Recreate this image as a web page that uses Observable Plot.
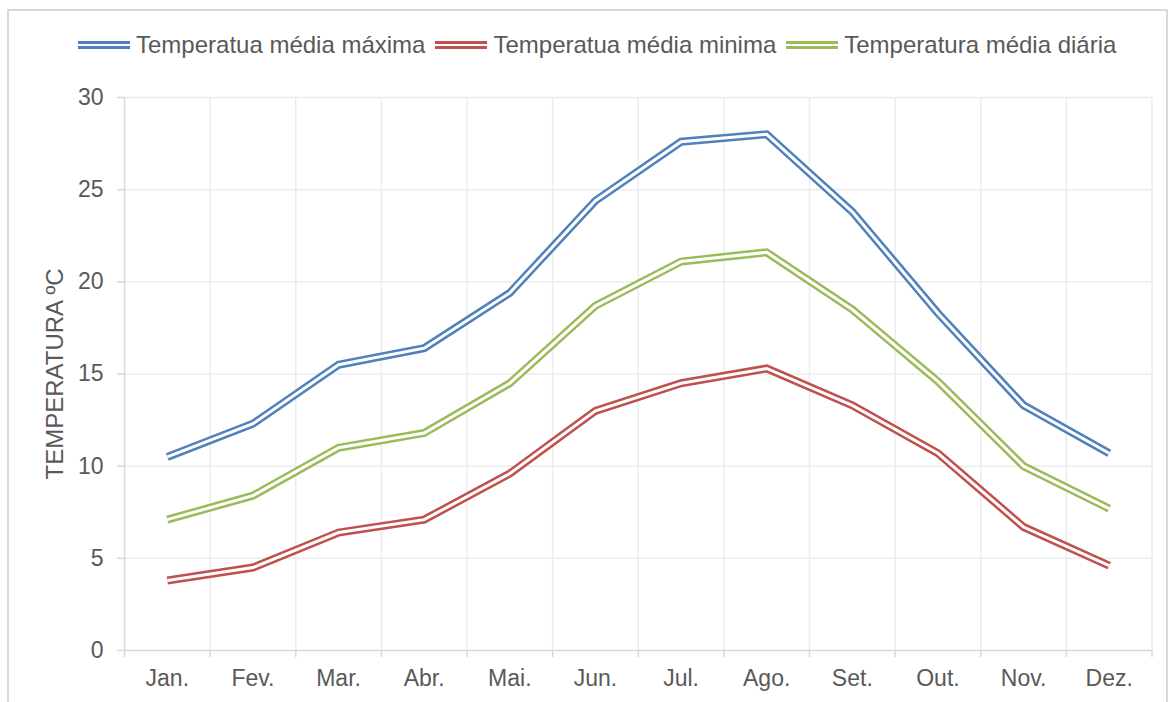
<!DOCTYPE html>
<html>
<head>
<meta charset="utf-8">
<script src="https://cdn.jsdelivr.net/npm/d3@7"></script>
<script src="https://cdn.jsdelivr.net/npm/@observablehq/plot@0.6"></script>
<style>
  html, body { margin: 0; padding: 0; background: #fff; overflow: hidden; }
  body { width: 1176px; height: 702px; position: relative; font-family: "Liberation Sans", Arial, sans-serif; color: #595959; }
  #frame { position: absolute; left: 7px; top: 9px; width: 1161px; height: 720px; border: 2px solid #d9d9d9; box-sizing: border-box; pointer-events: none; }
  #legend { position: relative; height: 80px; }
  #legend .items { position: absolute; left: 78px; top: 33px; display: flex; align-items: center; white-space: nowrap; }
  #legend .item { display: flex; align-items: center; margin-right: 10px; }
  #legend .sw { width: 52px; height: 8px; box-sizing: border-box; border-top: 3px solid; border-bottom: 3px solid; margin-right: 6px; }
  #legend .lbl { font-size: 24px; line-height: 24px; color: #595959; }
  #chart svg { display: block; }
</style>
</head>
<body>
<div id="frame"></div>
<div id="legend"><div class="items"></div></div>
<div id="chart"></div>
<script>
const months = ["Jan.","Fev.","Mar.","Abr.","Mai.","Jun.","Jul.","Ago.","Set.","Out.","Nov.","Dez."];
const seriesNames = ["Temperatua média máxima","Temperatua média minima","Temperatura média diária"];
const seriesColors = ["#4F81BD","#C0504D","#9BBB59"];
const tempMax   = [10.5, 12.3, 15.5, 16.4, 19.4, 24.4, 27.6, 28.0, 23.8, 18.3, 13.3, 10.7];
const tempMin   = [3.8, 4.5, 6.4, 7.1, 9.6, 13.0, 14.5, 15.3, 13.3, 10.7, 6.7, 4.6];
const tempDaily = [7.1, 8.4, 11.0, 11.8, 14.5, 18.7, 21.1, 21.6, 18.5, 14.6, 10.0, 7.7];
const yTicks = [0, 5, 10, 15, 20, 25, 30];
const yLabel = "TEMPERATURA ºC";

const seriesValues = [tempMax, tempMin, tempDaily];
const data = [];
seriesValues.forEach((vals, s) => vals.forEach((v, i) => data.push({series: seriesNames[s], i, v})));
const centers = months.map((_, i) => i);
const bounds = months.map((_, i) => i - 0.5).concat([months.length - 0.5]);

// legend
const items = document.querySelector("#legend .items");
seriesNames.forEach((name, s) => {
  const it = document.createElement("div");
  it.className = "item";
  const sw = document.createElement("div");
  sw.className = "sw";
  sw.style.borderColor = seriesColors[s];
  const lb = document.createElement("span");
  lb.className = "lbl";
  lb.textContent = name;
  it.appendChild(sw); it.appendChild(lb);
  items.appendChild(it);
});

const plot = Plot.plot({
  width: 1176,
  height: 622,
  marginTop: 17,
  marginBottom: 52,
  marginLeft: 124,
  marginRight: 24.5,
  style: {fontFamily: '"Liberation Sans", Arial, sans-serif', fontSize: "23px", color: "#595959", background: "transparent"},
  x: {domain: [-0.5, months.length - 0.5]},
  y: {domain: [0, 30]},
  color: {domain: seriesNames, range: seriesColors},
  marks: [
    Plot.ruleX(bounds.slice(1), {stroke: "#ececec", strokeWidth: 1.5}),
    Plot.ruleY(yTicks.filter(d => d > 0), {stroke: "#ececec", strokeWidth: 1.5}),
    Plot.ruleX([bounds[0]], {stroke: "#d9d9d9", strokeWidth: 1.5}),
    Plot.ruleY([0], {stroke: "#d9d9d9", strokeWidth: 1.5}),
    Plot.axisY({ticks: yTicks, tickSize: 7, tickPadding: 14, stroke: "#d9d9d9", strokeWidth: 1.5, fill: "#595959", label: null, fontSize: 23}),
    Plot.axisX({ticks: bounds, tickSize: 7, stroke: "#d9d9d9", strokeWidth: 1.5, tickFormat: () => "", label: null}),
    Plot.axisX({ticks: centers, tickSize: 0, tickPadding: 19, tickFormat: i => months[i], fill: "#595959", label: null, fontSize: 23}),
    Plot.text([yLabel], {frameAnchor: "left", rotate: -90, dx: -62, lineAnchor: "bottom", textAnchor: "middle", fill: "#595959", fontSize: 24}),
    Plot.line(data, {x: "i", y: "v", z: "series", stroke: "series", strokeWidth: 8, strokeLinecap: "butt", strokeLinejoin: "miter", strokeMiterlimit: 10}),
    Plot.line(data, {x: "i", y: "v", z: "series", stroke: "white", strokeWidth: 3, strokeLinecap: "butt", strokeLinejoin: "miter", strokeMiterlimit: 10})
  ]
});
document.getElementById("chart").appendChild(plot);
</script>
</body>
</html>
